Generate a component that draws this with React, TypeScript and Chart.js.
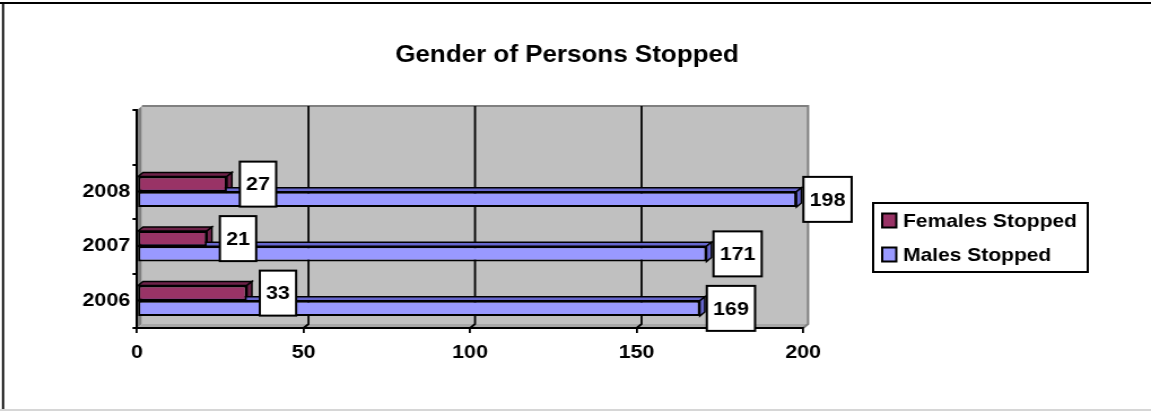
import React, { useEffect, useRef } from 'react';
import { Chart, registerables } from 'chart.js';

Chart.register(...registerables);

// ---- data ----
const years = ['2006', '2007', '2008'];
const femalesStopped = [33, 21, 27];
const malesStopped = [169, 171, 198];
const seriesNames = ['Females Stopped', 'Males Stopped'];
const xTickValues = [0, 50, 100, 150, 200];
const chartTitle = 'Gender of Persons Stopped';

// ---- layout / style ----
const W = 1019;
const H = 411;
const SX = 1151 / W;
const FONT = '"Liberation Sans", Arial, Helvetica, sans-serif';
const FEMALE = '#993366';
const FEMALE_DARK = '#6e2249';
const MALE = '#9999FF';
const MALE_DARK = '#6666cc';
const DEPTH_X = 4.4;
const DEPTH_Y = 4;

const poly = (ctx: CanvasRenderingContext2D, pts: number[][]) => {
  ctx.beginPath();
  ctx.moveTo(pts[0][0], pts[0][1]);
  for (let i = 1; i < pts.length; i++) ctx.lineTo(pts[i][0], pts[i][1]);
  ctx.closePath();
};

const decorPlugin = {
  id: 'decor',
  beforeDraw(chart: any) {
    const { ctx, chartArea: a } = chart;
    const dx = DEPTH_X, dy = DEPTH_Y;
    ctx.save();
    ctx.fillStyle = '#ffffff';
    ctx.fillRect(0, 0, W, H);
    // side wall
    ctx.fillStyle = '#808080';
    poly(ctx, [[a.left, a.top], [a.left + dx, a.top - dy], [a.left + dx, a.bottom - dy], [a.left, a.bottom]]);
    ctx.fill();
    // back wall
    ctx.fillStyle = '#C0C0C0';
    ctx.fillRect(a.left + dx, a.top - dy, a.right - a.left, a.bottom - a.top);
    // floor
    ctx.fillStyle = '#a8a8a8';
    poly(ctx, [[a.left, a.bottom], [a.left + dx, a.bottom - dy], [a.right + dx, a.bottom - dy], [a.right, a.bottom]]);
    ctx.fill();
    // wall edges
    ctx.strokeStyle = '#808080';
    ctx.lineWidth = 2;
    ctx.beginPath();
    ctx.moveTo(a.left + dx, a.top - dy);
    ctx.lineTo(a.right + dx, a.top - dy);
    ctx.lineTo(a.right + dx, a.bottom - dy);
    ctx.lineTo(a.right, a.bottom);
    ctx.stroke();
    // gridlines on back wall
    const xs = chart.scales.x;
    ctx.strokeStyle = '#000000';
    ctx.lineWidth = 1.8;
    xTickValues.forEach((v) => {
      if (v === xTickValues[0] || v === xTickValues[xTickValues.length - 1]) return;
      const px = xs.getPixelForValue(v);
      ctx.beginPath();
      ctx.moveTo(px + dx, a.top - dy);
      ctx.lineTo(px + dx, a.bottom - dy);
      ctx.lineTo(px, a.bottom);
      ctx.stroke();
    });
    ctx.restore();
  },
  beforeDatasetsDraw(chart: any) {
    const { ctx } = chart;
    const dx = DEPTH_X, dy = DEPTH_Y;
    ctx.save();
    ctx.strokeStyle = '#000';
    ctx.lineWidth = 1.5;
    chart.data.datasets.forEach((ds: any, i: number) => {
      const meta = chart.getDatasetMeta(i);
      meta.data.forEach((el: any, j: number) => {
        if (ds.data[j] == null) return;
        const { x, y, base, height } = el.getProps(['x', 'y', 'base', 'height'], true);
        const top = y - height / 2;
        const bottom = y + height / 2;
        ctx.fillStyle = ds.darkColor;
        poly(ctx, [[base, top], [base + dx, top - dy], [x + dx, top - dy], [x, top]]);
        ctx.fill();
        ctx.stroke();
        poly(ctx, [[x, top], [x + dx, top - dy], [x + dx, bottom - dy], [x, bottom]]);
        ctx.fill();
        ctx.stroke();
      });
    });
    ctx.restore();
  },
  afterDatasetsDraw(chart: any) {
    const { ctx } = chart;
    ctx.save();
    ctx.font = `bold 19px ${FONT}`;
    ctx.textAlign = 'center';
    ctx.textBaseline = 'middle';
    chart.data.datasets.forEach((ds: any, i: number) => {
      const meta = chart.getDatasetMeta(i);
      meta.data.forEach((el: any, j: number) => {
        const v = ds.data[j];
        if (v == null) return;
        const { x, y } = el.getProps(['x', 'y'], true);
        const txt = String(v);
        const w = ctx.measureText(txt).width + 11;
        const h = 45;
        const cx = x + 27.5;
        ctx.fillStyle = '#ffffff';
        ctx.fillRect(cx - w / 2, y - h / 2, w, h);
        ctx.strokeStyle = '#000';
        ctx.lineWidth = 2;
        ctx.strokeRect(cx - w / 2, y - h / 2, w, h);
        ctx.fillStyle = '#000';
        ctx.fillText(txt, cx, y + 1);
      });
    });
    ctx.restore();
  },
  afterDraw(chart: any) {
    const { ctx } = chart;
    ctx.save();
    // title
    ctx.fillStyle = '#000';
    ctx.font = `bold 23px ${FONT}`;
    ctx.textAlign = 'center';
    ctx.textBaseline = 'alphabetic';
    ctx.fillText(chartTitle, 502, 62);
    // legend
    const lx = 773, ly = 203, lw = 190, lh = 69;
    ctx.fillStyle = '#fff';
    ctx.fillRect(lx, ly, lw, lh);
    ctx.strokeStyle = '#000';
    ctx.lineWidth = 2;
    ctx.strokeRect(lx, ly, lw, lh);
    ctx.font = `bold 18.6px ${FONT}`;
    ctx.textAlign = 'left';
    const rows = [213.5, 247.5];
    chart.data.datasets.forEach((ds: any, i: number) => {
      const my = rows[i];
      ctx.fillStyle = ds.backgroundColor;
      ctx.fillRect(781, my, 12.5, 14);
      ctx.strokeStyle = '#000';
      ctx.lineWidth = 2;
      ctx.strokeRect(781, my, 12.5, 14);
      ctx.fillStyle = '#000';
      ctx.fillText(ds.label, 799.5, my + 13.5);
    });
    // frame
    ctx.fillStyle = '#000';
    ctx.fillRect(0, 2, W, 2);
    ctx.fillRect(1.8, 2, 1.8, H - 3);
    ctx.fillStyle = '#d6d6d6';
    ctx.fillRect(0, 409, W, 2);
    ctx.restore();
  },
};

export default function App() {
  const ref = useRef<HTMLCanvasElement | null>(null);

  useEffect(() => {
    if (!ref.current) return;
    const labels = ['', ...years.slice().reverse()];
    const fem = [null, ...femalesStopped.slice().reverse()];
    const mal = [null, ...malesStopped.slice().reverse()];
    const chart = new Chart(ref.current, {
      type: 'bar',
      data: {
        labels,
        datasets: [
          {
            label: seriesNames[0],
            data: fem,
            backgroundColor: FEMALE,
            darkColor: FEMALE_DARK,
            borderColor: '#000',
            borderWidth: 2,
            borderSkipped: false,
            categoryPercentage: 0.56,
            barPercentage: 1,
          } as any,
          {
            label: seriesNames[1],
            data: mal,
            backgroundColor: MALE,
            darkColor: MALE_DARK,
            borderColor: '#000',
            borderWidth: 2,
            borderSkipped: false,
            categoryPercentage: 0.56,
            barPercentage: 1,
          } as any,
        ],
      },
      options: {
        indexAxis: 'y',
        responsive: false,
        animation: false,
        devicePixelRatio: 1,
        layout: { padding: { left: 0, top: 110, right: W - 711, bottom: 0 } },
        plugins: {
          legend: { display: false },
          title: { display: false },
          tooltip: { enabled: false },
        },
        scales: {
          x: {
            type: 'linear',
            min: xTickValues[0],
            max: xTickValues[xTickValues.length - 1],
            afterBuildTicks: (s: any) => {
              s.ticks = xTickValues.map((v) => ({ value: v }));
            },
            afterFit: (s: any) => {
              s.height = H - 328;
            },
            ticks: {
              color: '#000',
              font: { family: FONT, size: 19, weight: 'bold' },
              padding: 8,
            },
            grid: {
              drawOnChartArea: false,
              drawTicks: true,
              tickLength: 5,
              color: '#000',
              lineWidth: 1.8,
            },
            border: { display: true, color: '#000', width: 2 },
          },
          y: {
            type: 'category',
            afterFit: (s: any) => {
              s.width = 121.3;
            },
            ticks: {
              color: '#000',
              font: { family: FONT, size: 19, weight: 'bold' },
              padding: 2,
            },
            grid: {
              drawOnChartArea: false,
              drawTicks: true,
              tickLength: 4,
              color: '#000',
              lineWidth: 2,
            },
            border: { display: true, color: '#000', width: 2 },
          },
        },
      } as any,
      plugins: [decorPlugin],
    });
    return () => chart.destroy();
  }, []);

  return (
    <div style={{ position: 'fixed', left: 0, top: 0, width: 1151, height: 411, overflow: 'hidden', background: '#fff' }}>
      <canvas
        ref={ref}
        width={W}
        height={H}
        style={{
          display: 'block',
          width: `${W}px`,
          height: `${H}px`,
          transform: `scale(${SX}, 1)`,
          transformOrigin: '0 0',
        }}
      />
    </div>
  );
}
